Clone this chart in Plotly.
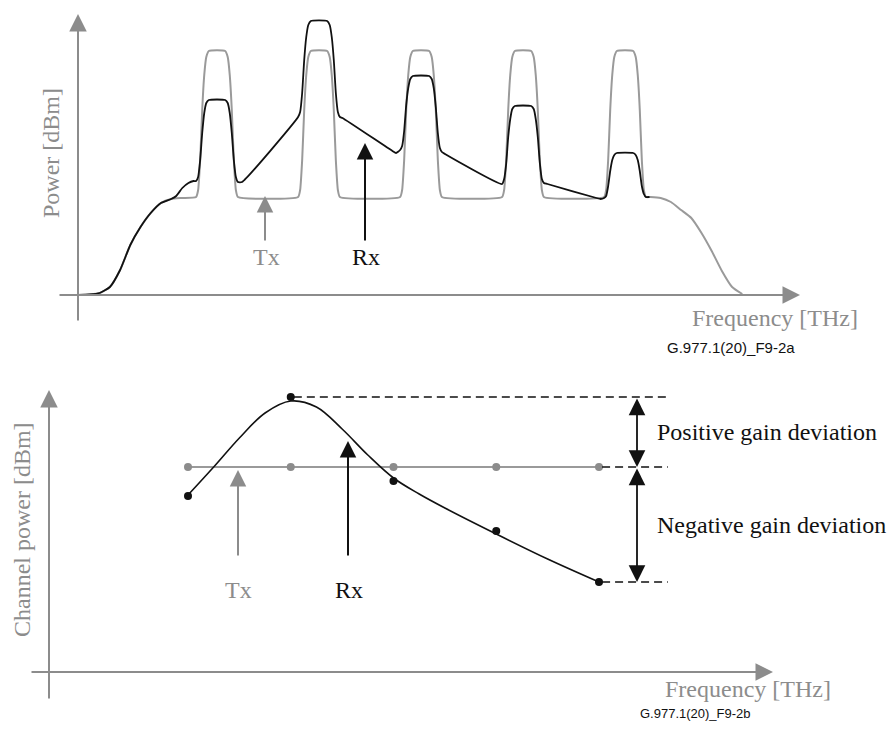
import plotly.graph_objects as go

# ---------------- data ----------------
# Top panel: optical spectrum, frequency offset [GHz] vs. relative power [dB]
tx_freq = [
    -136, -125, -115, -105, -95, -85, -75, -65, -55, -45, -35,
    -20.5, -18.5, -16.5, -14.5, -12.5, -10.5, -8, 8, 10.5, 12.5, 14.5, 16.5, 18.5, 20.5,
    79.5, 81.5, 83.5, 85.5, 87.5, 89.5, 92, 108, 110.5, 112.5, 114.5, 116.5, 118.5, 120.5,
    179.5, 181.5, 183.5, 185.5, 187.5, 189.5, 192, 208, 210.5, 212.5, 214.5, 216.5, 218.5, 220.5,
    279.5, 281.5, 283.5, 285.5, 287.5, 289.5, 292, 308, 310.5, 312.5, 314.5, 316.5, 318.5, 320.5,
    379.5, 381.5, 383.5, 385.5, 387.5, 389.5, 392, 408, 410.5, 412.5, 414.5, 416.5, 418.5, 420.5,
    425, 435, 445, 455, 465, 475, 485, 495, 505, 515,
]
tx_power = [
    0, 0.05, 0.2, 0.8, 2.5, 5.0, 6.8, 8.2, 9.2, 9.6, 9.7,
    9.8, 10.5, 13.5, 18.5, 22.0, 23.8, 24.4, 24.4, 23.8, 22.0, 18.5, 13.5, 10.5, 9.8,
    9.8, 10.5, 13.5, 18.5, 22.0, 23.8, 24.4, 24.4, 23.8, 22.0, 18.5, 13.5, 10.5, 9.8,
    9.8, 10.5, 13.5, 18.5, 22.0, 23.8, 24.4, 24.4, 23.8, 22.0, 18.5, 13.5, 10.5, 9.8,
    9.8, 10.5, 13.5, 18.5, 22.0, 23.8, 24.4, 24.4, 23.8, 22.0, 18.5, 13.5, 10.5, 9.8,
    9.8, 10.5, 13.5, 18.5, 22.0, 23.8, 24.4, 24.4, 23.8, 22.0, 18.5, 13.5, 10.5, 9.8,
    9.8, 9.7, 9.3, 8.5, 7.7, 6.2, 4.4, 2.4, 0.8, 0.1,
]
rx_freq = [
    -136, -125, -115, -105, -95, -85, -75, -65, -55, -45, -40, -34, -28, -23,
    -20.5, -18.5, -16.5, -14.5, -12.5, -10.5, -8, 8, 10.5, 12.5, 14.5, 16.5, 18.5, 20.5, 24.5,
    79.5, 81.5, 83.5, 85.5, 87.5, 89.5, 92, 108, 110.5, 112.5, 114.5, 116.5, 118.5, 120.5, 123,
    172, 175.5,
    179.5, 181.5, 183.5, 185.5, 187.5, 189.5, 192, 208, 210.5, 212.5, 214.5, 216.5, 218.5, 220.5, 223.5,
    279.5, 281.5, 283.5, 285.5, 287.5, 289.5, 292, 308, 310.5, 312.5, 314.5, 316.5, 318.5, 320.5, 324,
    372, 376,
    379.5, 381.5, 383.5, 385.5, 387.5, 389.5, 392, 408, 410.5, 412.5, 414.5, 416.5, 418.5, 420.5, 424,
]
rx_power = [
    0, 0.05, 0.2, 0.8, 2.5, 5.0, 6.8, 8.2, 9.2, 9.6, 9.9, 10.7, 11.2, 11.4,
    11.4, 11.8, 13.5, 16.2, 18.2, 19.2, 19.5, 19.5, 19.2, 18.2, 16.2, 13.5, 11.8, 11.3, 11.3,
    17.8, 18.3, 20.2, 23.5, 25.8, 27.0, 27.4, 27.4, 27.0, 25.8, 23.5, 20.2, 18.3, 17.8, 17.7,
    14.4, 14.2,
    14.5, 14.9, 16.4, 19.0, 20.7, 21.6, 21.9, 21.9, 21.6, 20.7, 18.8, 16.2, 14.7, 14.3, 14.1,
    11.1, 11.6, 13.1, 15.8, 17.6, 18.6, 18.9, 18.9, 18.6, 17.6, 15.8, 13.2, 11.6, 11.2, 11.1,
    9.7, 9.6,
    9.7, 9.9, 10.9, 12.4, 13.5, 14.0, 14.2, 14.2, 14.0, 13.5, 12.4, 10.9, 10.1, 9.8, 9.8,
]

# Bottom panel: channel power per channel
ch_freq = [0, 100, 200, 300, 400]
tx_ch_power = [20.5, 20.5, 20.5, 20.5, 20.5]
rx_ch_power = [17.6, 27.5, 19.1, 14.1, 9.0]
rx_fit_freq = [0, 25, 50, 75, 100, 125, 150, 175, 200, 225, 250, 300, 350, 400]
rx_fit_power = [17.7, 20.5, 23.4, 25.9, 27.1, 26.5, 24.3, 21.7, 19.4, 17.8, 16.4, 13.8, 11.3, 9.0]

label_top_x = "Frequency [THz]"
label_top_y = "Power [dBm]"
label_bot_x = "Frequency [THz]"
label_bot_y = "Channel power [dBm]"
fig_id_a = "G.977.1(20)_F9-2a"
fig_id_b = "G.977.1(20)_F9-2b"

assert len(tx_freq) == len(tx_power)
assert len(rx_freq) == len(rx_power)
assert len(rx_fit_freq) == len(rx_fit_power)

# ---------------- layout helpers ----------------
W, H = 887, 740
GRAY = "#8c8c8c"
TXGRAY = "#9a9a9a"
BLACK = "#111111"
SERIF = "Liberation Serif, Times New Roman, serif"
SANS = "Liberation Sans, Arial, sans-serif"

SPLIT = 350  # pixel row separating the panels
# top axes: px = 217 + 1.02*f ; py = 295 - 10*p
T_X0, T_XS, T_Y0, T_YS = 217.0, 1.02, 295.0, 10.0
# bottom axes: px = 188 + 1.0275*f ; py = 672 - 10*q
B_X0, B_XS, B_Y0, B_YS = 188.0, 1.0275, 672.0, 10.0


def px(x):
    return x / W


def py(y):
    return 1 - y / H


fig = go.Figure()

# ---------------- top panel ----------------
fig.add_trace(go.Scatter(x=tx_freq, y=tx_power, mode="lines",
                         line=dict(color=TXGRAY, width=2, shape="spline", smoothing=0.5),
                         xaxis="x", yaxis="y", hoverinfo="skip"))
fig.add_trace(go.Scatter(x=rx_freq, y=rx_power, mode="lines",
                         line=dict(color=BLACK, width=1.8, shape="spline", smoothing=0.5),
                         xaxis="x", yaxis="y", hoverinfo="skip"))

# ---------------- bottom panel ----------------
fig.add_trace(go.Scatter(x=ch_freq, y=tx_ch_power, mode="lines+markers",
                         line=dict(color=TXGRAY, width=2),
                         marker=dict(color=GRAY, size=8),
                         xaxis="x2", yaxis="y2", hoverinfo="skip"))
fig.add_trace(go.Scatter(x=rx_fit_freq, y=rx_fit_power, mode="lines",
                         line=dict(color=BLACK, width=1.6, shape="spline", smoothing=1.0),
                         xaxis="x2", yaxis="y2", hoverinfo="skip"))
fig.add_trace(go.Scatter(x=ch_freq, y=rx_ch_power, mode="markers",
                         marker=dict(color=BLACK, size=8),
                         xaxis="x2", yaxis="y2", hoverinfo="skip"))

# dashed reference lines
DASH_END = 467
g_max = max(rx_ch_power)
g_min = min(rx_ch_power)
g_tx = tx_ch_power[0]
i_max = rx_ch_power.index(g_max)
i_min = rx_ch_power.index(g_min)
for x0, yv in [(ch_freq[i_max], g_max), (ch_freq[-1], g_tx), (ch_freq[i_min], g_min)]:
    fig.add_trace(go.Scatter(x=[x0 + 3, DASH_END], y=[yv, yv], mode="lines",
                             line=dict(color=BLACK, width=1.5, dash="8px,5px"),
                             xaxis="x2", yaxis="y2", hoverinfo="skip"))

ann = []


def arrow(xr, yr, x, y, ax, ay, color, width=2, size=1.3, both=False):
    d = dict(xref=xr, yref=yr, axref=xr, ayref=yr, x=x, y=y, ax=ax, ay=ay,
             text="", showarrow=True, arrowhead=2, arrowsize=size,
             arrowwidth=width, arrowcolor=color, standoff=0, startstandoff=0)
    if both:
        d["arrowside"] = "end+start"
        d["startarrowhead"] = 2
        d["startarrowsize"] = size
    ann.append(d)


def text(xr, yr, x, y, s, color, size=24, family=SERIF, xanchor="center", angle=0):
    ann.append(dict(xref=xr, yref=yr, x=x, y=y, text=s, showarrow=False,
                    font=dict(family=family, size=size, color=color),
                    xanchor=xanchor, yanchor="middle", textangle=angle))


tf = lambda p: (p - T_X0) / T_XS
tp = lambda p: (T_Y0 - p) / T_YS
bf = lambda p: (p - B_X0) / B_XS
bq = lambda p: (B_Y0 - p) / B_YS

# axes (arrows)
AX_SIZE = 1.75
arrow("x", "y", tf(78), tp(14), tf(78), tp(322), GRAY, 2, AX_SIZE)
arrow("x", "y", tf(800), 0, tf(58), 0, GRAY, 2, AX_SIZE)
arrow("x2", "y2", bf(49), bq(390), bf(49), bq(700), GRAY, 2, AX_SIZE)
arrow("x2", "y2", bf(773), 0, bf(30), 0, GRAY, 2, AX_SIZE)

# Tx / Rx pointers, top panel
P_SIZE = 1.65
arrow("x", "y", tf(265), tx_power[12] - 0.6, tf(265), tp(242), GRAY, 2, P_SIZE)
text("x", "y", tf(266), tp(257), "Tx", GRAY)
arrow("x", "y", tf(365), tp(143), tf(365), tp(242), BLACK, 2, P_SIZE)
text("x", "y", tf(366), tp(257), "Rx", BLACK)

# Tx / Rx pointers, bottom panel
arrow("x2", "y2", bf(238), g_tx - 0.3, bf(238), bq(557), GRAY, 2, P_SIZE)
text("x2", "y2", bf(238), bq(590), "Tx", GRAY)
arrow("x2", "y2", bf(348), bq(441), bf(348), bq(557), BLACK, 2, P_SIZE)
text("x2", "y2", bf(349), bq(590), "Rx", BLACK)

# gain deviation double arrows
ARR_X = bf(637)
arrow("x2", "y2", ARR_X, g_tx, ARR_X, g_max, BLACK, 1.8, 1.85, both=True)
arrow("x2", "y2", ARR_X, g_min, ARR_X, g_tx, BLACK, 1.8, 1.85, both=True)
text("x2", "y2", bf(655), (g_max + g_tx) / 2, "Positive gain deviation", BLACK, xanchor="left")
text("x2", "y2", bf(655), (g_tx + g_min) / 2, "Negative gain deviation", BLACK, xanchor="left")

# axis titles and figure ids (paper coordinates)
text("paper", "paper", px(51), py(153), label_top_y, GRAY, angle=-90)
text("paper", "paper", px(775), py(318), label_top_x, GRAY)
text("paper", "paper", px(731), py(347), fig_id_a, BLACK, size=15, family=SANS)
text("paper", "paper", px(22), py(530), label_bot_y, GRAY, angle=-90)
text("paper", "paper", px(748), py(689), label_bot_x, GRAY)
text("paper", "paper", px(695), py(713), fig_id_b, BLACK, size=13, family=SANS)

ax_common = dict(visible=False, showgrid=False, zeroline=False, fixedrange=True)
fig.update_layout(
    width=W, height=H, autosize=False,
    margin=dict(l=0, r=0, t=0, b=0),
    paper_bgcolor="white", plot_bgcolor="rgba(0,0,0,0)",
    showlegend=False,
    xaxis=dict(domain=[0, 1], range=[tf(0), tf(W)], anchor="y", **ax_common),
    yaxis=dict(domain=[py(SPLIT), 1], range=[tp(SPLIT), tp(0)], anchor="x", **ax_common),
    xaxis2=dict(domain=[0, 1], range=[bf(0), bf(W)], anchor="y2", **ax_common),
    yaxis2=dict(domain=[0, py(SPLIT)], range=[bq(H), bq(SPLIT)], anchor="x2", **ax_common),
    annotations=ann,
)

fig.write_html(
    "out.html",
    config={"displayModeBar": False, "staticPlot": True},
    post_script="document.body.style.margin='0px';document.body.style.overflow='hidden';",
)
